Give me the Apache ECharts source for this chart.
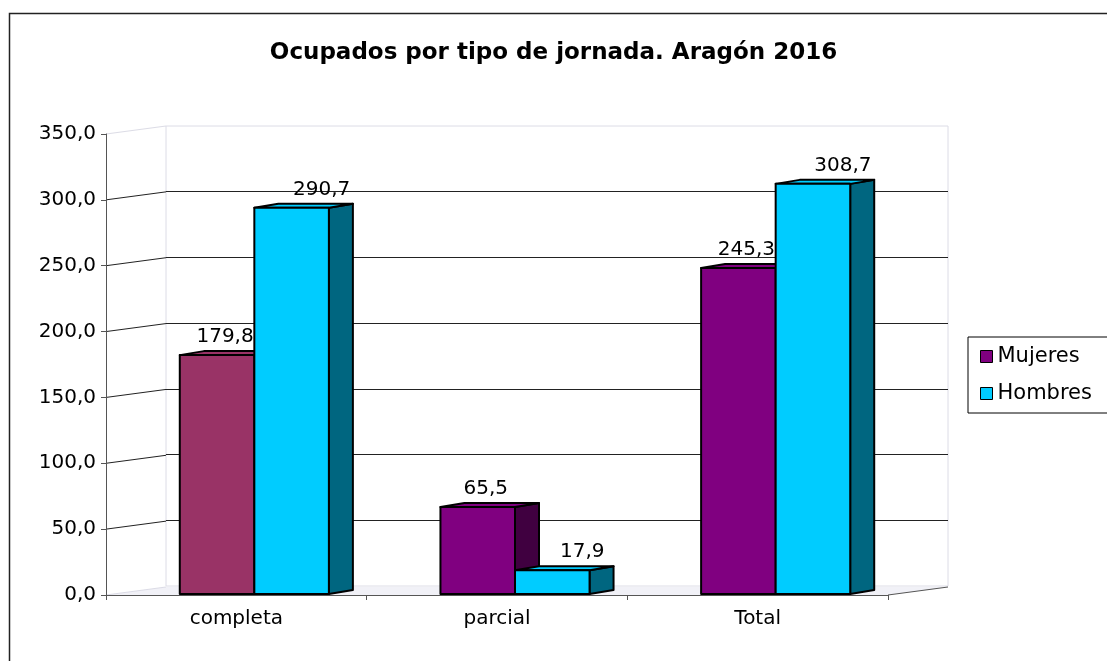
<!DOCTYPE html>
<html>
<head>
<meta charset="utf-8">
<script src="https://cdn.jsdelivr.net/npm/echarts@6/dist/echarts.min.js"></script>
<style>
  html, body { margin: 0; padding: 0; background: #fff; }
  #chart { width: 1107px; height: 661px; }
</style>
</head>
<body>
<div id="chart"></div>
<script>
const categories = ['completa', 'parcial', 'Total'];
const mujeres = [179.8, 65.5, 245.3];
const hombres = [290.7, 17.9, 308.7];
const yTicks = [0, 50, 100, 150, 200, 250, 300, 350];

// face colours per bar (front, side)
const mujeresFront = ['#993366', '#800080', '#800080'];
const mujeresSide = ['#4d1a33', '#400040', '#400040'];
const hombresFront = ['#00CCFF', '#00CCFF', '#00CCFF'];
const hombresSide = ['#006680', '#006680', '#006680'];

// depth of the pseudo 3D walls and bars, in px
const WALL_DX = 60, WALL_DY = -8;
const BAR_DX = 24, BAR_DY = -4;
const FONT = 'DejaVu Sans';

const fmt = v => v.toFixed(1).replace('.', ',');

function renderWalls(params, api) {
  const v = api.value(0);
  const cs = params.coordSys;
  const p = api.coord([0, v]);
  const x = cs.x, y = p[1];
  const edge = v === 0 || v === 350;
  const children = [{
    type: 'line',
    shape: { x1: x, y1: y, x2: x + WALL_DX, y2: y + WALL_DY },
    style: { stroke: edge ? '#dcdce6' : '#222', lineWidth: 1 }
  }];
  if (v === 0) {
    const xr = cs.x + cs.width;
    children.unshift({
      type: 'polygon',
      shape: { points: [[x, y], [xr, y], [xr + WALL_DX, y + WALL_DY], [x + WALL_DX, y + WALL_DY]] },
      style: { fill: '#f1f1f7', stroke: null }
    });
    children.push({
      type: 'line',
      shape: { x1: xr, y1: y, x2: xr + WALL_DX, y2: y + WALL_DY },
      style: { stroke: '#555', lineWidth: 1 }
    });
  }
  return { type: 'group', children: children };
}

function makeBarRenderer(isLeft, fronts, sides, labelDx) {
  return function (params, api) {
    const i = api.value(0), val = api.value(1);
    const top = api.coord([i, val]);
    const base = api.coord([i, 0]);
    const band = api.size([1, 0])[0];
    const w = band * 0.286;
    const x0 = isLeft ? top[0] - w : top[0];
    const x1 = x0 + w;
    const yT = top[1], yB = base[1];
    const stroke = { stroke: '#000', lineWidth: 2, lineJoin: 'round' };
    return {
      type: 'group',
      children: [
        {
          type: 'polygon',
          shape: { points: [[x1, yB], [x1 + BAR_DX, yB + BAR_DY], [x1 + BAR_DX, yT + BAR_DY], [x1, yT]] },
          style: Object.assign({ fill: sides[i] }, stroke)
        },
        {
          type: 'polygon',
          shape: { points: [[x0, yT], [x0 + BAR_DX, yT + BAR_DY], [x1 + BAR_DX, yT + BAR_DY], [x1, yT]] },
          style: Object.assign({ fill: fronts[i] }, stroke)
        },
        {
          type: 'rect',
          shape: { x: x0, y: yT, width: w, height: yB - yT },
          style: Object.assign({ fill: fronts[i] }, stroke)
        },
        {
          type: 'text',
          style: {
            text: fmt(val), x: (x0 + x1) / 2 + labelDx, y: yT - 18,
            align: 'center', verticalAlign: 'middle',
            fontSize: 20, fontFamily: FONT, fill: '#000'
          }
        }
      ]
    };
  };
}

const chart = echarts.init(document.getElementById('chart'), null, { renderer: 'canvas' });

const option = {
  backgroundColor: '#fff',
  animation: false,
  title: {
    text: 'Ocupados por tipo de jornada. Aragón 2016',
    left: 'center',
    top: 37,
    textStyle: { fontFamily: FONT, fontSize: 23, fontWeight: 'bold', color: '#000' }
  },
  legend: {
    orient: 'vertical',
    left: 968,
    top: 337,
    data: ['Mujeres', 'Hombres'],
    icon: 'rect',
    itemWidth: 12,
    itemHeight: 12,
    itemGap: 16,
    padding: [9, 30, 9, 12],
    borderColor: '#000',
    borderWidth: 1,
    itemStyle: { borderColor: '#000', borderWidth: 1 },
    textStyle: { fontFamily: FONT, fontSize: 21, color: '#000' }
  },
  graphic: [{
    type: 'rect',
    left: 7, top: 11,
    shape: { width: 1130, height: 700 },
    style: { fill: null, stroke: '#222', lineWidth: 1.5 },
    silent: true
  }],
  grid: [
    // front plane: axes and labels
    { left: 106, right: 219, top: 134, bottom: 66 },
    // back wall
    { left: 166, right: 159, top: 126, bottom: 75, show: true, borderColor: '#dcdce6', borderWidth: 1, backgroundColor: '#fff' },
    // bar plane
    { left: 124, right: 201, top: 129, bottom: 67 }
  ],
  xAxis: [
    {
      gridIndex: 0, type: 'category', data: categories,
      axisLine: { lineStyle: { color: '#555', width: 1 } },
      axisTick: { show: true, length: 5, lineStyle: { color: '#555' } },
      axisLabel: { margin: 14, fontFamily: FONT, fontSize: 20, color: '#000' },
      z: 5
    },
    { gridIndex: 1, type: 'category', data: categories, show: false },
    { gridIndex: 2, type: 'category', data: categories, show: false }
  ],
  yAxis: [
    {
      gridIndex: 0, type: 'value', min: 0, max: 350, interval: 50,
      axisLine: { show: true, lineStyle: { color: '#555', width: 1 } },
      axisTick: { show: true, length: 5, lineStyle: { color: '#555' } },
      axisLabel: { margin: 10, fontFamily: FONT, fontSize: 20, color: '#000', formatter: fmt },
      splitLine: { show: false },
      z: 5
    },
    {
      gridIndex: 1, type: 'value', min: 0, max: 350, interval: 50,
      axisLine: { show: false }, axisTick: { show: false }, axisLabel: { show: false },
      splitLine: { show: true, showMinLine: false, showMaxLine: false, lineStyle: { color: '#222', width: 1 } }
    },
    { gridIndex: 2, type: 'value', min: 0, max: 350, show: false, splitLine: { show: false } }
  ],
  series: [
    {
      type: 'custom', name: 'walls', xAxisIndex: 0, yAxisIndex: 0,
      data: yTicks.map(v => [v]),
      encode: { y: 0 },
      renderItem: renderWalls,
      silent: true, z: 1
    },
    {
      type: 'custom', name: 'Mujeres', xAxisIndex: 2, yAxisIndex: 2,
      itemStyle: { color: '#800080' },
      data: mujeres.map((v, i) => [i, v]),
      encode: { x: 0, y: 1 },
      renderItem: makeBarRenderer(true, mujeresFront, mujeresSide, 8),
      z: 3
    },
    {
      type: 'custom', name: 'Hombres', xAxisIndex: 2, yAxisIndex: 2,
      itemStyle: { color: '#00CCFF' },
      data: hombres.map((v, i) => [i, v]),
      encode: { x: 0, y: 1 },
      renderItem: makeBarRenderer(false, hombresFront, hombresSide, 30),
      z: 4
    }
  ]
};

chart.setOption(option);
</script>
</body>
</html>
